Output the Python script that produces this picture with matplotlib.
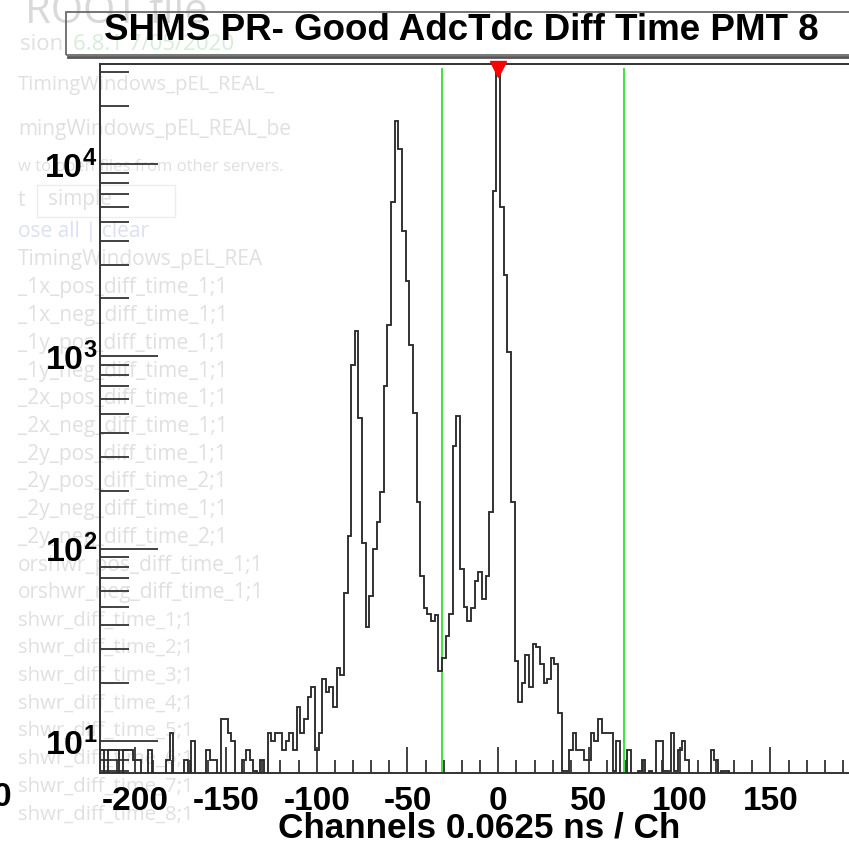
import numpy as np
import matplotlib
matplotlib.use("Agg")
import matplotlib.pyplot as plt
from matplotlib.patches import Rectangle
from matplotlib.lines import Line2D

# ---------------- data ----------------
title = "SHMS PR- Good AdcTdc Diff Time PMT 8"
x_title = "Channels 0.0625 ns / Ch"
bin_width = 2
first_edge = -219
# counts per bin, bin centres -218, -216, ..., 218
counts = [
    9, 0, 9, 9, 9, 0, 9, 9, 9, 8,            # -218 .. -200
    8, 0, 0, 9, 0, 0, 0, 0, 8, 11,           # -198 .. -180
    0, 0, 0, 8, 0, 10, 0, 0, 0, 9,           # -178 .. -160
    8, 8, 0, 13, 13, 11, 10, 0, 0, 8,        # -158 .. -140
    9, 8, 7, 0, 8, 0, 11, 10, 11, 11,        # -138 .. -120
    9, 10, 11, 9, 15, 11, 13, 17, 19, 9,     # -118 .. -100
    11, 21, 18, 19, 15, 24, 22, 59, 116, 900,  # -98 .. -80
    1355, 477, 107, 39, 57, 100, 137, 196, 700, 1456,  # -78 .. -60
    6380, 16700, 11960, 4490, 2470, 1146, 505, 175, 72, 49,  # -58 .. -40
    46, 42, 45, 23, 27, 35, 46, 343, 490, 78,  # -38 .. -20
    50, 42, 49, 68, 76, 55, 72, 155, 7200, 31300,  # -18 .. 0
    6000, 2660, 1050, 175, 26, 16, 20, 28, 19, 32,  # 2 .. 20
    31, 25, 20, 21, 27, 25, 14, 7, 7, 9,     # 22 .. 40
    11, 9, 9, 8, 8, 11, 10, 13, 11, 11,      # 42 .. 60
    11, 7, 10, 0, 0, 9, 0, 0, 7, 8,          # 62 .. 80
    0, 7, 0, 10, 10, 7, 7, 11, 7, 9,         # 82 .. 100
    10, 8, 0, 0, 0, 0, 0, 0, 9, 8,           # 102 .. 120
    0, 7, 7, 0, 0, 0, 0, 0, 0, 0,            # 122 .. 140
    0, 0, 0, 0, 0, 0, 0, 0, 0, 0,            # 142 .. 160
    0, 0, 0, 0, 0, 0, 0, 0, 0, 0,            # 162 .. 180
    0, 0, 0, 0, 0, 0, 0, 0, 0, 0,            # 182 .. 200
    0, 0, 0, 0, 0, 0, 0, 0, 0,               # 202 .. 218
]
window_cuts = [-31, 69.4]
peak_pos = [0]
peak_val = [31300]
x_major = [-200, -150, -100, -50, 0, 50, 100, 150]
x_major_labels = ["-200", "-150", "-100", "-50", "0", "50", "100", "150"]
y_major = [10, 100, 1000, 10000]
y_major_labels = [r"$\mathbf{10^{1}}$", r"$\mathbf{10^{2}}$",
                  r"$\mathbf{10^{3}}$", r"$\mathbf{10^{4}}$"]

# faint web page showing through (left side of the screenshot)
bg_texts = [
    "TimingWindows_pEL_REAL_", "mingWindows_pEL_REAL_be",
    "w to open files from other servers.",
    "ose all | clear", "TimingWindows_pEL_REA",
    "_1x_pos_diff_time_1;1", "_1x_neg_diff_time_1;1",
    "_1y_pos_diff_time_1;1", "_1y_neg_diff_time_1;1",
    "_2x_pos_diff_time_1;1", "_2x_neg_diff_time_1;1",
    "_2y_pos_diff_time_1;1", "_2y_pos_diff_time_2;1",
    "_2y_neg_diff_time_1;1", "_2y_neg_diff_time_2;1",
    "orshwr_pos_diff_time_1;1", "orshwr_neg_diff_time_1;1",
    "shwr_diff_time_1;1", "shwr_diff_time_2;1", "shwr_diff_time_3;1",
    "shwr_diff_time_4;1", "shwr_diff_time_5;1", "shwr_diff_time_6;1",
    "shwr_diff_time_7;1", "shwr_diff_time_8;1",
]

# ---------------- figure ----------------
plt.rcParams["axes.unicode_minus"] = False
plt.rcParams["mathtext.fontset"] = "custom"
plt.rcParams["mathtext.rm"] = "Liberation Sans"
plt.rcParams["mathtext.bf"] = "Liberation Sans:bold"
plt.rcParams["font.family"] = ["Liberation Sans", "DejaVu Sans"]

W, H = 849, 844
fig = plt.figure(figsize=(W / 100, H / 100), dpi=100)
fig.patch.set_facecolor("white")


def fx(x):
    return x / W


def fy(y):
    return 1 - y / H


# background page text (very faint)
bg_col = "#e0e0e0"
fig.text(fx(25), fy(12), "ROOT file", fontsize=30, color="#d9d9d9",
         family="Open Sans", va="center", zorder=-10)
fig.text(fx(20), fy(45), "sion ", fontsize=16, color=bg_col,
         family="Open Sans", va="center", zorder=-10)
fig.text(fx(73), fy(45), "6.8.1 7/05/2020", fontsize=16, color="#d8ecd8",
         family="Open Sans", va="center", zorder=-10)
bg_y = [85, 130, 167, 232, 260] + [288 + 27.7 * i for i in range(20)]
bg_size = [14.5, 15, 12, 15, 15] + [15] * 12 + [14.7] * 8
for t, yy, s in zip(bg_texts, bg_y, bg_size):
    col = "#dbe0f5" if "clear" in t else bg_col
    fig.text(fx(18), fy(yy), t, fontsize=s, color=col, family="Open Sans",
             va="center", zorder=-10)
fig.text(fx(18), fy(200), "t", fontsize=15, color=bg_col, family="Open Sans",
         va="center", zorder=-10)
fig.text(fx(48), fy(200), "simple", fontsize=15, color=bg_col,
         family="Open Sans", va="center", zorder=-10)
fig.patches.append(Rectangle((fx(37), fy(217)), fx(138), 32 / H,
                             transform=fig.transFigure, fill=False,
                             ec="#ededed", lw=1, zorder=-10))

# main axes: frame extends past the right edge of the picture
xlim = (-219.4, 220.0)
px_per_unit = 1.815
left_px, bottom_px, top_px = 100, 773, 64
ax = fig.add_axes([fx(left_px), fy(bottom_px),
                   (xlim[1] - xlim[0]) * px_per_unit / W,
                   (bottom_px - top_px) / H])
ax.set_facecolor("none")
ax.set_xlim(*xlim)
ax.set_yscale("log")
ax.set_ylim(6.82, 33100)

edges = first_edge + bin_width * np.arange(len(counts) + 1)
vals = np.clip(np.array(counts, dtype=float), 0.5, None)
ax.stairs(vals, edges, baseline=None, color="#2b2b2b", lw=1.35, zorder=3)

for xc in window_cuts:
    ax.plot([xc, xc], [6.82, 31300], color="#3fe23f", lw=1.4, zorder=2)
ax.plot(peak_pos, peak_val, marker="v", ls="none", color="#ff0000",
        ms=11.5, clip_on=False, zorder=5)

for side in ["left", "bottom", "top", "right"]:
    ax.spines[side].set_color("#333333")
    ax.spines[side].set_linewidth(1.4)

ax.set_xticks(x_major)
ax.set_xticklabels(x_major_labels, fontsize=24, fontweight="bold")
ax.set_xticks(np.arange(-210, 220, 10), minor=True)
ax.set_yticks(y_major)
ax.set_yticklabels(y_major_labels, fontsize=24.5)
ax.yaxis.set_minor_formatter(matplotlib.ticker.NullFormatter())
ax.tick_params(axis="x", which="major", direction="in", length=18.7,
               width=1.3, color="#333333", pad=9.0, top=False)
ax.tick_params(axis="x", which="minor", direction="in", length=9.4,
               width=1.3, color="#333333", top=False)
ax.tick_params(axis="y", which="major", direction="in", length=41.8,
               width=1.3, color="#333333", pad=2, right=False)
ax.tick_params(axis="y", which="minor", direction="in", length=20.9,
               width=1.3, color="#333333", right=False)

# partial label at the far left edge of the screenshot
fig.text(fx(11), fy(798), "0", fontsize=24, fontweight="bold",
         ha="right", va="center")

# x axis title
fig.text(fx(479.5), fy(828), x_title, fontsize=25.3, fontweight="bold",
         ha="center", va="center")

# title box
fig.patches.append(Rectangle((fx(66), fy(55)), fx(900 - 66), 43 / H,
                             transform=fig.transFigure, fill=False,
                             ec="#6a6a6a", lw=1.3, zorder=4))
fig.lines.append(Line2D([fx(68), fx(860)], [fy(56.5), fy(56.5)],
                        transform=fig.transFigure, color="#555555", lw=2.0,
                        zorder=4))
fig.text(fx(461), fy(30), title, fontsize=26.5, fontweight="bold",
         ha="center", va="center", zorder=5)

fig.savefig("out.png", dpi=100, facecolor="white")
